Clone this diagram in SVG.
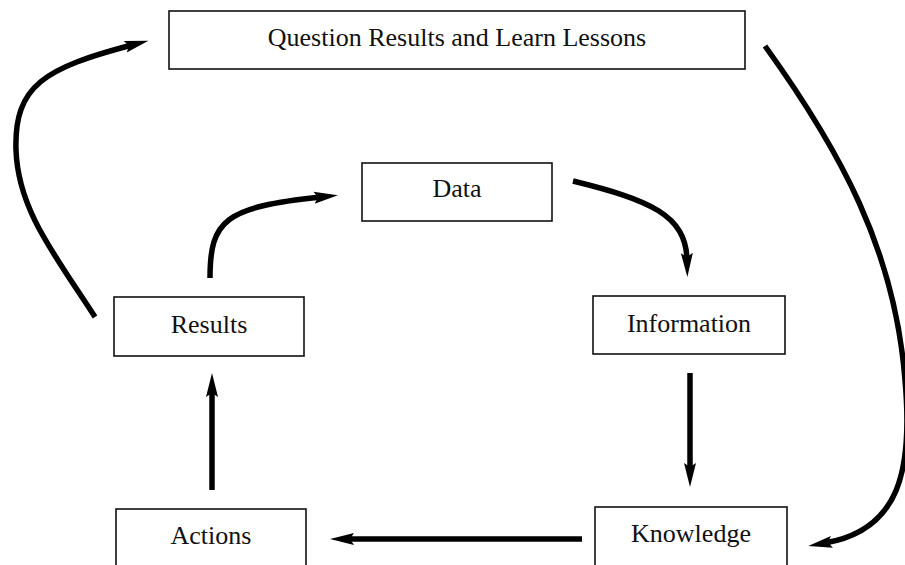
<svg xmlns="http://www.w3.org/2000/svg" width="905" height="565" viewBox="0 0 905 565">
  <style>
    .box { fill: #ffffff; stroke: #111111; stroke-width: 1.6; }
    .label { font-family: "Liberation Serif", "Times New Roman", serif; font-size: 26px; fill: #111111; text-anchor: middle; }
    .flow { fill: none; stroke: #000000; stroke-width: 5.5; marker-end: url(#head); }
  </style>
  <defs>
    <marker id="head" markerUnits="userSpaceOnUse" viewBox="-8 -8 28 16" refX="0" refY="0" markerWidth="28" markerHeight="16" orient="auto" overflow="visible">
      <path d="M17,0 L-7,-6 L-3,0 L-7,6 Z" fill="#000000"/>
    </marker>
  </defs>
  <rect width="905" height="565" fill="#ffffff"/>

  <g id="lessons">
    <rect class="box" x="169" y="11" width="576" height="58"/>
    <text class="label" x="457" y="46">Question Results and Learn Lessons</text>
  </g>
  <g id="data">
    <rect class="box" x="362" y="163" width="190" height="58"/>
    <text class="label" x="457" y="197">Data</text>
  </g>
  <g id="results">
    <rect class="box" x="114" y="297" width="190" height="59"/>
    <text class="label" x="209" y="333">Results</text>
  </g>
  <g id="information">
    <rect class="box" x="593" y="296" width="192" height="58"/>
    <text class="label" x="689" y="332">Information</text>
  </g>
  <g id="actions">
    <rect class="box" x="116" y="509" width="190" height="70"/>
    <text class="label" x="211" y="544">Actions</text>
  </g>
  <g id="knowledge">
    <rect class="box" x="595" y="507" width="192" height="72"/>
    <text class="label" x="691" y="542">Knowledge</text>
  </g>

  <g id="connectors">
    <path class="flow" d="M95,317 C55,255 18,210 16,150 C14,85 45,68 132,45"/>
    <path class="flow" d="M210,278 C210,220 225,207 321,197"/>
    <path class="flow" d="M573,181 C650,200 686,215 687,260"/>
    <path class="flow" d="M690,373 L690,470"/>
    <path class="flow" d="M582,539 L347,539"/>
    <path class="flow" d="M212,490 L212,390"/>
    <path class="flow" d="M765,46 C840,150 895,250 905,380 C913,470 900,530 825,543"/>
  </g>
</svg>
